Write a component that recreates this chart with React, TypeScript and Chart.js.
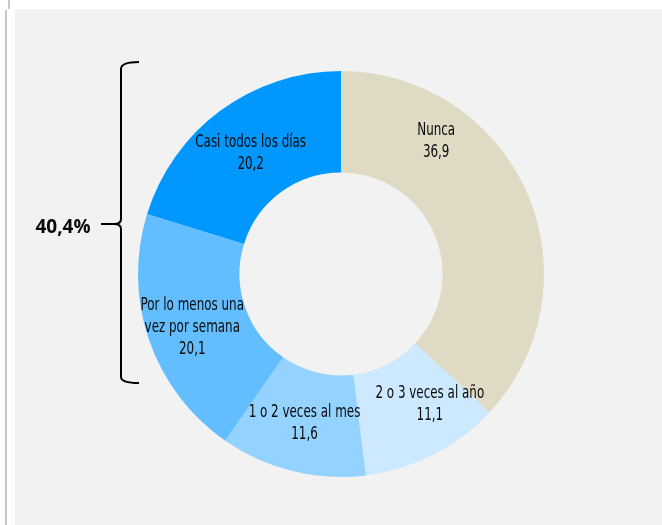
import React, { useEffect, useRef } from "react";
import { Chart, registerables } from "chart.js";

Chart.register(...registerables);

const categories: string[][] = [
  ["Nunca"],
  ["2 o 3 veces al año"],
  ["1 o 2 veces al mes"],
  ["Por lo menos una", "vez por semana"],
  ["Casi todos los días"],
];
const values = [36.9, 11.1, 11.6, 20.1, 20.2];
const valueLabels = ["36,9", "11,1", "11,6", "20,1", "20,2"];
const colors = ["#DEDAC4", "#CCE9FF", "#94D2FF", "#62BEFF", "#0098FF"];
// relative position of each label along its slice (angle fraction, radial fraction)
const labelAngleFrac = [0.266, 0.31, 0.5, 0.5, 0.5];
const labelRadFrac = [0.62, 0.54, 0.5, 0.55, 0.5];
const bracketText = "40,4%";

const FONT = '"DejaVu Sans Condensed", "Liberation Sans Narrow", sans-serif';

const bgPlugin = {
  id: "bg",
  beforeDraw(chart: any) {
    const { ctx, width, height } = chart;
    ctx.save();
    ctx.fillStyle = "#FFFFFF";
    ctx.fillRect(0, 0, width, height);
    ctx.fillStyle = "#F2F2F2";
    ctx.fillRect(15, 9, width - 15, height - 9);
    ctx.fillStyle = "#C8C8C8";
    ctx.fillRect(5, 10, 2, height - 10);
    ctx.fillRect(8, 0, 2, 9);
    ctx.restore();
  },
};

const labelPlugin = {
  id: "sliceLabels",
  afterDraw(chart: any) {
    const { ctx } = chart;
    const meta = chart.getDatasetMeta(0);
    ctx.save();
    ctx.fillStyle = "#0A0A0A";
    ctx.font = `17px ${FONT}`;
    ctx.textAlign = "center";
    ctx.textBaseline = "middle";
    const sx = 0.78;
    meta.data.forEach((arc: any, i: number) => {
      const p = arc.getProps(["x", "y", "startAngle", "endAngle", "innerRadius", "outerRadius"], true);
      const a = p.startAngle + (p.endAngle - p.startAngle) * labelAngleFrac[i];
      const r = p.innerRadius + (p.outerRadius - p.innerRadius) * labelRadFrac[i];
      const cx = p.x + Math.cos(a) * r;
      const cy = p.y + Math.sin(a) * r + 2;
      const lines = [...categories[i], valueLabels[i]];
      const lh = 22;
      const y0 = cy - ((lines.length - 1) * lh) / 2;
      lines.forEach((t, k) => {
        ctx.save();
        ctx.translate(cx, y0 + k * lh);
        ctx.scale(sx, 1);
        ctx.fillText(t, 0, 0);
        ctx.restore();
      });
    });

    // curly bracket spanning the last two slices
    const x = 121;
    const top = 63;
    const bot = 383;
    const mid = 224;
    ctx.strokeStyle = "#000000";
    ctx.lineWidth = 2;
    ctx.beginPath();
    ctx.moveTo(139, top - 1);
    ctx.quadraticCurveTo(x, top - 1, x, top + 6);
    ctx.lineTo(x, mid - 5);
    ctx.quadraticCurveTo(x, mid, 114, mid);
    ctx.lineTo(101, mid);
    ctx.moveTo(114, mid);
    ctx.quadraticCurveTo(x, mid, x, mid + 5);
    ctx.lineTo(x, bot - 6);
    ctx.quadraticCurveTo(x, bot, 139, bot);
    ctx.stroke();

    ctx.font = 'bold 19px "Open Sans", "Lato", sans-serif';
    ctx.textAlign = "center";
    ctx.fillText(bracketText, 63, 228);
    ctx.restore();
  },
};

export default function App() {
  const ref = useRef<HTMLCanvasElement>(null);
  useEffect(() => {
    if (!ref.current) return;
    const chart = new Chart(ref.current, {
      type: "doughnut",
      data: {
        labels: categories.map((c) => c.join(" ")),
        datasets: [
          {
            data: values,
            backgroundColor: colors,
            borderWidth: 0,
          },
        ],
      },
      options: {
        responsive: false,
        animation: false,
        cutout: "50%",
        rotation: 0,
        layout: { padding: { left: 138, right: 118, top: 71, bottom: 48 } },
        plugins: {
          legend: { display: false },
          tooltip: { enabled: false },
        },
      },
      plugins: [bgPlugin, labelPlugin],
    });
    return () => chart.destroy();
  }, []);
  return (
    <div style={{ position: "absolute", left: 0, top: 0, width: 662, height: 525 }}>
      <canvas ref={ref} width={662} height={525} style={{ display: "block" }} />
    </div>
  );
}
